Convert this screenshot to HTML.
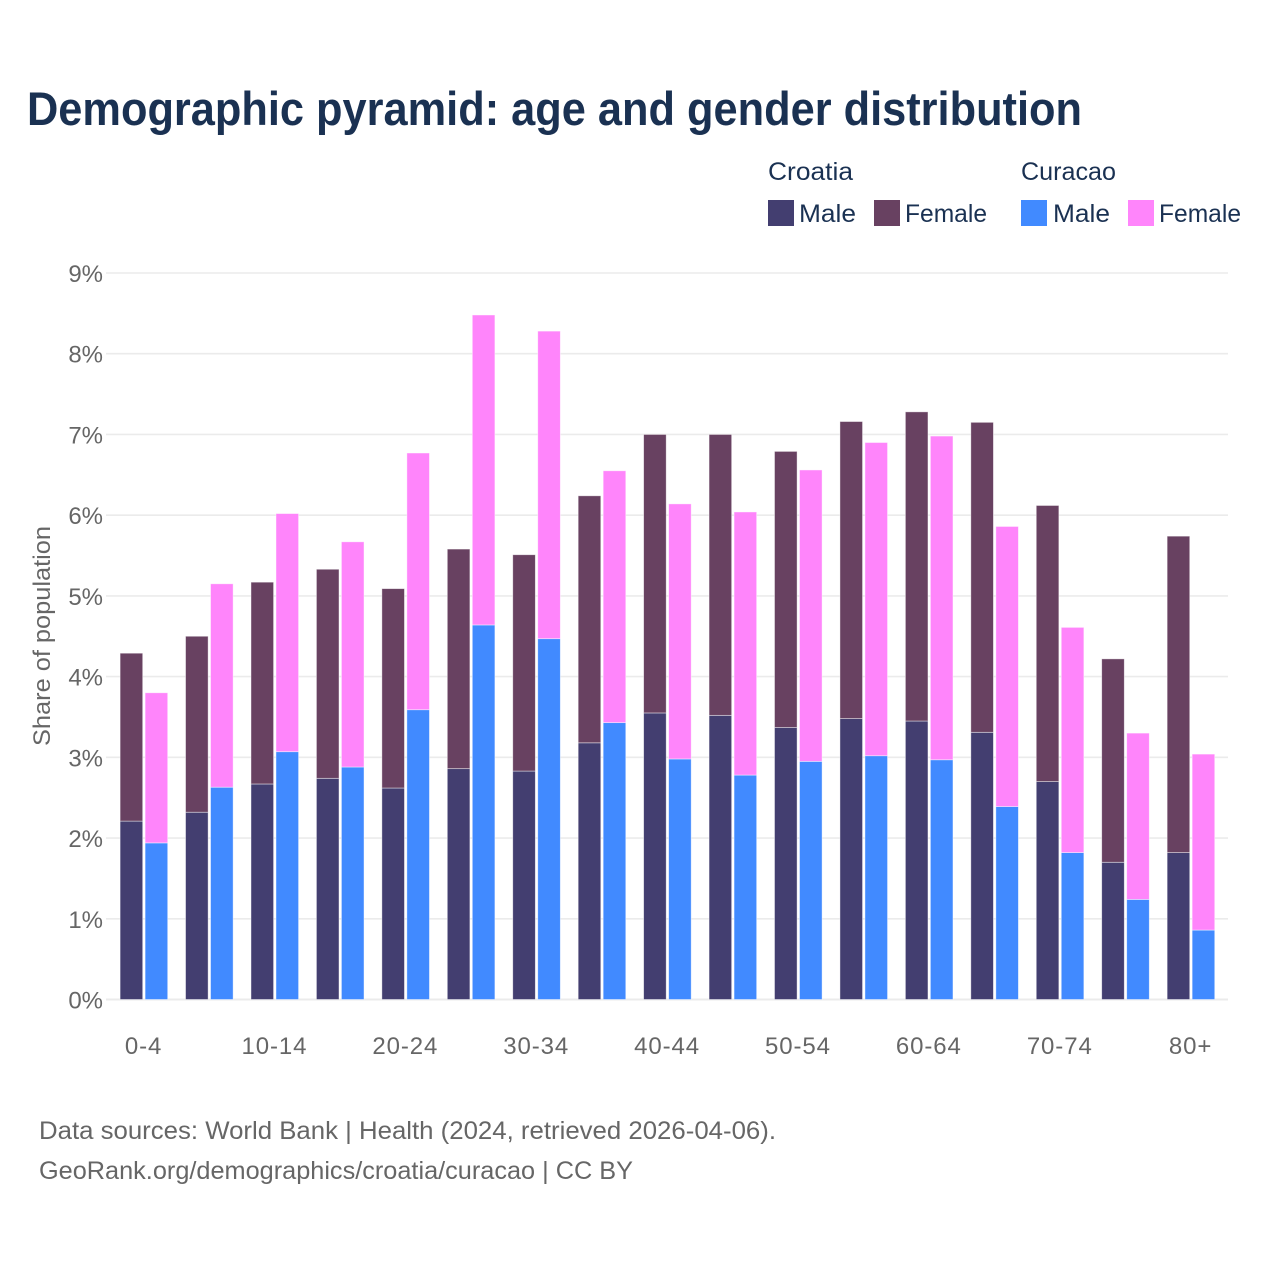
<!DOCTYPE html>
<html lang="en">
<head>
<meta charset="utf-8">
<title>Demographic pyramid: age and gender distribution</title>
<style>
html,body{margin:0;padding:0;background:#fff;}
svg{display:block;font-family:"Liberation Sans",sans-serif;}
</style>
</head>
<body>
<svg id="chart" xmlns="http://www.w3.org/2000/svg" width="1280" height="1280" viewBox="0 0 1280 1280">
  <rect x="0" y="0" width="1280" height="1280" fill="#ffffff"/>
  <text x="27" y="125" font-size="47" font-weight="700" fill="#1a3152" textLength="1055" lengthAdjust="spacingAndGlyphs">Demographic pyramid: age and gender distribution</text>

  <g font-size="25" fill="#1a3152">
    <text x="768" y="180" textLength="85" lengthAdjust="spacingAndGlyphs">Croatia</text>
    <text x="1021" y="180" textLength="95" lengthAdjust="spacingAndGlyphs">Curacao</text>
    <rect x="768" y="200" width="26" height="26" fill="#433e70"/>
    <text x="799" y="222" textLength="57" lengthAdjust="spacingAndGlyphs">Male</text>
    <rect x="874" y="200" width="26" height="26" fill="#684161"/>
    <text x="905" y="222" textLength="82" lengthAdjust="spacingAndGlyphs">Female</text>
    <rect x="1021" y="200" width="26" height="26" fill="#418aff"/>
    <text x="1053" y="222" textLength="57" lengthAdjust="spacingAndGlyphs">Male</text>
    <rect x="1128" y="200" width="26" height="26" fill="#ff85fb"/>
    <text x="1159" y="222" textLength="82" lengthAdjust="spacingAndGlyphs">Female</text>
  </g>

  <g id="grid"></g>
  <g id="yticks"></g>
  <g id="bars"></g>
  <g id="xticks"></g>

  <text transform="translate(50,636) rotate(-90)" text-anchor="middle" font-size="24" fill="#666666" textLength="220" lengthAdjust="spacingAndGlyphs">Share of population</text>

  <text x="39" y="1139" font-size="25" fill="#666666" textLength="737" lengthAdjust="spacingAndGlyphs">Data sources: World Bank | Health (2024, retrieved 2026-04-06).</text>
  <text x="39" y="1179" font-size="25" fill="#666666" textLength="594" lengthAdjust="spacingAndGlyphs">GeoRank.org/demographics/croatia/curacao | CC BY</text>
</svg>
<script>
const categories = ['0-4','5-9','10-14','15-19','20-24','25-29','30-34','35-39','40-44','45-49','50-54','55-59','60-64','65-69','70-74','75-79','80+'];
const croatiaMale = [2.21,2.32,2.67,2.74,2.62,2.86,2.83,3.18,3.55,3.52,3.37,3.48,3.45,3.31,2.70,1.70,1.82];
const croatiaFemale = [2.08,2.18,2.50,2.59,2.47,2.72,2.68,3.06,3.45,3.48,3.42,3.68,3.83,3.84,3.42,2.52,3.92];
const curacaoMale = [1.94,2.63,3.07,2.88,3.59,4.64,4.47,3.43,2.98,2.78,2.95,3.02,2.97,2.39,1.82,1.24,0.86];
const curacaoFemale = [1.86,2.52,2.95,2.79,3.18,3.84,3.81,3.12,3.16,3.26,3.61,3.88,4.01,3.47,2.79,2.06,2.18];
const yTickValues = [0,1,2,3,4,5,6,7,8,9];

const NS = 'http://www.w3.org/2000/svg';
const plotLeft = 106, plotRight = 1228, y0 = 999.5, y9 = 273;
const firstCenter = 143.6, bandStep = 65.44, barWidth = 22.6, leftOffset = -23.5, rightOffset = 1.5;
function yScale(v){ return y0 - v * (y0 - y9) / 9; }
function xCenter(i){ return firstCenter + i * bandStep; }
function make(tag, attrs, parent){
  const el = document.createElementNS(NS, tag);
  for (const k in attrs) el.setAttribute(k, attrs[k]);
  parent.appendChild(el);
  return el;
}

const gridG = document.getElementById('grid');
const ytG = document.getElementById('yticks');
yTickValues.forEach(function(t){
  const line = make('line', {x1: plotLeft, x2: plotRight, y1: yScale(t), y2: yScale(t), stroke: '#ebebeb', 'stroke-width': t === 0 ? 2 : 1.6}, gridG);
  
  
  const label = make('text', {x: 103, y: yScale(t) + 9, 'text-anchor': 'end', 'font-size': 24, fill: '#666666'}, ytG);
  label.textContent = t + '%';
  
  
});

const barsG = document.getElementById('bars');
function drawBar(i, base, value, offset, color, name){
  const top = yScale(base + value), bottom = yScale(base);
  const r = make('rect', {x: xCenter(i) + offset, y: top, width: barWidth, height: bottom - top, fill: color, stroke: '#ffffff', 'stroke-opacity': 0.55, 'stroke-width': 0.8}, barsG);
  
  
}
categories.forEach(function(c, i){
  drawBar(i, 0, croatiaMale[i], leftOffset, '#433e70', 'bar-croatia-male');
  drawBar(i, croatiaMale[i], croatiaFemale[i], leftOffset, '#684161', 'bar-croatia-female');
  drawBar(i, 0, curacaoMale[i], rightOffset, '#418aff', 'bar-curacao-male');
  drawBar(i, curacaoMale[i], curacaoFemale[i], rightOffset, '#ff85fb', 'bar-curacao-female');
});

const xtG = document.getElementById('xticks');
categories.forEach(function(c, i){
  if (i % 2 !== 0) return;
  const label = make('text', {x: xCenter(i), y: 1054, 'text-anchor': 'middle', 'font-size': 24, 'letter-spacing': 0.9, fill: '#666666'}, xtG);
  label.textContent = c;
  
  
});
</script>
</body>
</html>
